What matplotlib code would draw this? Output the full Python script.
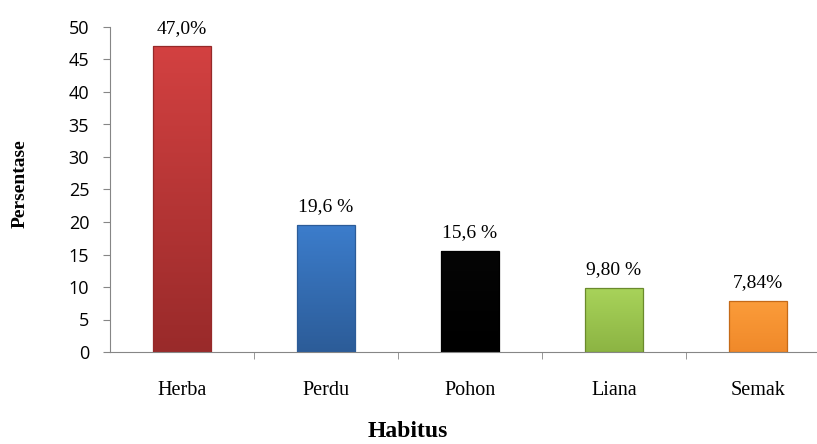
import numpy as np
import matplotlib.pyplot as plt
from matplotlib.colors import LinearSegmentedColormap

habitus = ["Herba", "Perdu", "Pohon", "Liana", "Semak"]
persen = [47.0, 19.6, 15.6, 9.80, 7.84]
label_teks = ["47,0%", "19,6 %", "15,6 %", "9,80 %", "7,84%"]
warna_atas = ["#d34141", "#3c7dcc", "#050505", "#a8d35a", "#fb9c3a"]
warna_bawah = ["#992a2a", "#2c5c98", "#000000", "#8cb443", "#f0892a"]
warna_tepi = ["#962929", "#2c5c98", "#000000", "#6a8a2c", "#c56a18"]

fig = plt.figure(figsize=(8.17, 4.44), dpi=100)
ax = fig.add_axes([110 / 817, 92 / 444, 720 / 817, 325 / 444])

x = np.arange(len(habitus))
lebar = 0.40
bars = ax.bar(x, persen, width=lebar, color="none", zorder=2)

# isi batang dengan gradasi vertikal
grad = np.linspace(1, 0, 256).reshape(-1, 1)
for b, c1, c2, ce in zip(bars, warna_atas, warna_bawah, warna_tepi):
    cmap = LinearSegmentedColormap.from_list("g", [c2, c1])
    x0, y0 = b.get_x(), b.get_y()
    img = ax.imshow(grad, cmap=cmap, aspect="auto", zorder=2,
                    extent=[x0, x0 + b.get_width(), y0, y0 + b.get_height()])
    img.set_clip_path(b)
    b.set_edgecolor(ce)
    b.set_linewidth(0.9)
    b.set_zorder(3)

for i, (v, t) in enumerate(zip(persen, label_teks)):
    ax.annotate(t, (x[i], v), xytext=(0, 10), textcoords="offset points",
                ha="center", va="baseline", fontsize=14, family="Liberation Serif")

ax.set_xlim(-0.5, len(habitus) - 0.5)
ax.set_ylim(0, 50)
ax.set_yticks(np.arange(0, 51, 5))
ax.set_xticks(x)
ax.set_xticklabels(habitus, family="Liberation Serif", fontsize=14.5)
ax.set_xticks(np.arange(0.5, len(habitus) - 0.5, 1), minor=True)
ax.tick_params(axis="x", which="major", length=0, pad=21)
ax.tick_params(axis="x", which="minor", length=5, direction="out", color="#868686")
ax.tick_params(axis="y", length=5, color="#868686", labelsize=13, pad=10)
for lbl in ax.get_yticklabels():
    lbl.set_family("Open Sans")

for s in ["top", "right"]:
    ax.spines[s].set_visible(False)
for s in ["left", "bottom"]:
    ax.spines[s].set_color("#868686")

ax.set_ylabel("")
fig.text(20 / 817, 1 - 184 / 444, "Persentase", family="Liberation Serif",
         fontweight="bold", fontsize=14, rotation=90, ha="center", va="center")
fig.text(408 / 817, 1 - 431 / 444, "Habitus", family="Liberation Serif",
         fontweight="bold", fontsize=17, ha="center", va="center")

fig.savefig("out.png", dpi=100)
